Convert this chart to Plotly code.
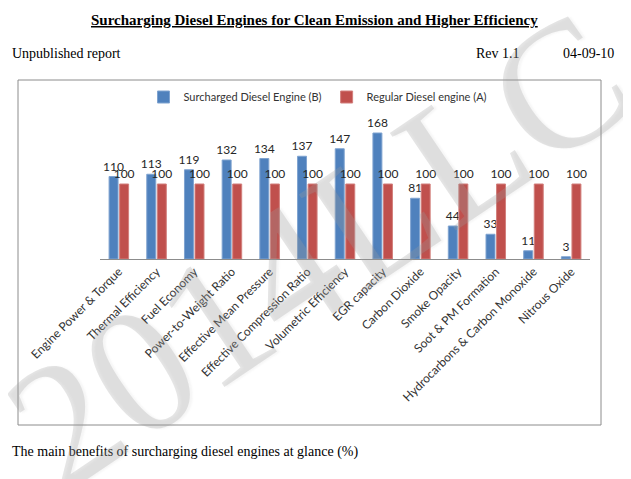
import plotly.graph_objects as go

categories = ["Engine Power & Torque", "Thermal Efficiency", "Fuel Economy",
              "Power-to-Weight Ratio", "Effective Mean Pressure",
              "Effective Compression Ratio", "Volumetric Efficiency",
              "EGR capacity", "Carbon Dioxide", "Smoke Opacity",
              "Soot & PM Formation", "Hydrocarbons & Carbon Monoxide",
              "Nitrous Oxide"]
surcharged = [110, 113, 119, 132, 134, 137, 147, 168, 81, 44, 33, 11, 3]
regular = [100, 100, 100, 100, 100, 100, 100, 100, 100, 100, 100, 100, 100]

# page body has an 8px margin, so the figure is drawn 8px smaller
OFF = 8
W, H = 631 - OFF, 479 - OFF
L, R, T, B = 100 - OFF, 41, 124 - OFF, 220


def px(x):
    return (x - OFF - L) / (W - L - R)


def py(y):
    return (H - B - (y - OFF)) / (H - T - B)


lbl_font = dict(family="Lato", size=12, color="#262626")

fig = go.Figure()
fig.add_trace(go.Bar(x=categories, y=surcharged, name="Surcharged Diesel Engine (B)",
                     marker=dict(color="#4F81BD", line=dict(color="#7FA3D0", width=1)),
                     text=surcharged, textposition="outside", cliponaxis=False,
                     constraintext="none", textfont=lbl_font))
fig.add_trace(go.Bar(x=categories, y=regular, name="Regular Diesel engine (A)",
                     marker=dict(color="#C0504D", line=dict(color="#D27F7C", width=1)),
                     text=regular, textposition="outside", cliponaxis=False,
                     constraintext="none", textfont=lbl_font))

fig.update_layout(
    width=W, height=H,
    margin=dict(l=L, r=R, t=T, b=B),
    paper_bgcolor="white", plot_bgcolor="white",
    barmode="group", bargap=0.44, bargroupgap=0.15,
    showlegend=True,
    legend=dict(orientation="h", x=px(318), xanchor="center", y=py(97), yanchor="middle",
                font=dict(family="Lato", size=11, color="#333333"),
                itemwidth=30, bgcolor="rgba(0,0,0,0)"),
    xaxis=dict(showline=True, linecolor="#8c8c8c", linewidth=1, tickangle=-45,
               ticks="", tickfont=dict(family="Lato", size=12, color="#333333")),
    yaxis=dict(range=[0, 180], visible=False, showgrid=False, zeroline=False),
)

# frame around the chart
fig.add_shape(type="rect", xref="paper", yref="paper",
              x0=px(18), x1=px(601), y0=py(425), y1=py(80),
              line=dict(color="#8c8c8c", width=1), layer="below")

serif = "Liberation Serif"
fig.add_annotation(text="<b><u>Surcharging Diesel Engines for Clean Emission and Higher Efficiency</u></b>",
                   xref="paper", yref="paper", x=px(314), y=py(20), showarrow=False,
                   xanchor="center", yanchor="middle",
                   font=dict(family=serif, size=15, color="black"))
fig.add_annotation(text="Unpublished report", xref="paper", yref="paper",
                   x=px(10), y=py(54), showarrow=False, xanchor="left", yanchor="middle",
                   font=dict(family=serif, size=14, color="black"))
fig.add_annotation(text="Rev 1.1", xref="paper", yref="paper",
                   x=px(474), y=py(54), showarrow=False, xanchor="left", yanchor="middle",
                   font=dict(family=serif, size=14, color="black"))
fig.add_annotation(text="04-09-10", xref="paper", yref="paper",
                   x=px(616), y=py(54), showarrow=False, xanchor="right", yanchor="middle",
                   font=dict(family=serif, size=14, color="black"))
fig.add_annotation(text="The main benefits of surcharging diesel engines at glance (%)",
                   xref="paper", yref="paper", x=px(10), y=py(452), showarrow=False,
                   xanchor="left", yanchor="middle",
                   font=dict(family=serif, size=14, color="black"))

# watermark
fig.add_annotation(text="2014LLC", xref="paper", yref="paper",
                   x=px(318), y=py(250), showarrow=False, textangle=-34,
                   xanchor="center", yanchor="middle",
                   font=dict(family=serif, size=180, color="rgba(160,160,160,0.27)",
                             shadow="2px 2px 2px rgba(120,120,120,0.25)"))

fig.write_html("out.html")
